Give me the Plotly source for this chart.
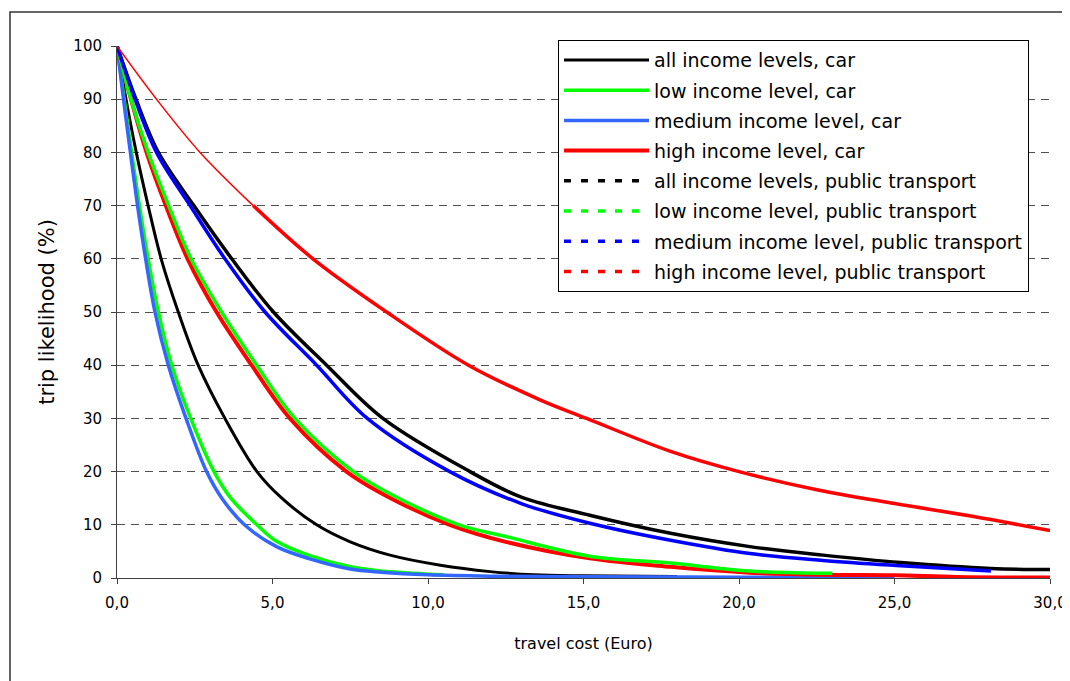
import plotly.graph_objects as go

# ---- data ----
x_ticks = [0, 5, 10, 15, 20, 25, 30]
x_tick_labels = ["0,0", "5,0", "10,0", "15,0", "20,0", "25,0", "30,0"]
y_ticks = [0, 10, 20, 30, 40, 50, 60, 70, 80, 90, 100]
y_tick_labels = ["0", "10", "20", "30", "40", "50", "60", "70", "80", "90", "100"]

names = [
    "all income levels, car",
    "low income level, car",
    "medium income level, car",
    "high income level, car",
    "all income levels, public transport",
    "low income level, public transport",
    "medium income level, public transport",
    "high income level, public transport",
]

all_car_x = [0, 0.29, 0.62, 1.0, 1.42, 1.97, 2.61, 3.47, 4.5, 5.3, 6.42, 7.5, 8.78, 10.4, 12.0, 13.4, 15.0, 18.0]
all_car_y = [100, 90, 80, 70, 60, 50, 40, 30, 20, 15, 10, 6.8, 4.3, 2.4, 1.2, 0.6, 0.4, 0.3]

low_car_x = [0, 0.23, 0.47, 0.72, 1.0, 1.33, 1.76, 2.37, 3.12, 3.66, 4.5, 5.13, 6.2, 7.5, 8.5, 9.5, 10.5]
low_car_y = [100, 90, 80, 70, 60, 50, 40, 30, 20, 15, 10, 6.9, 4.2, 2.1, 1.3, 0.9, 0.6]

med_car_x = [0, 0.21, 0.43, 0.66, 0.92, 1.22, 1.65, 2.22, 2.88, 3.37, 4.1, 5.13, 6.2, 7.5, 8.5, 10.0, 12.0, 15.0, 20.0, 25.0]
med_car_y = [100, 90, 80, 70, 60, 50, 40, 30, 20, 15, 10, 5.9, 3.6, 1.7, 1.1, 0.6, 0.35, 0.25, 0.15, 0.1]

high_car_x = [0, 0.45, 0.95, 1.57, 2.27, 3.2, 4.33, 5.56, 7.38, 8.8, 10.7, 12.5, 15.2, 17.8, 20.35, 22.7, 25.0, 27.0, 30.0]
high_car_y = [100, 90, 80, 70, 60, 50, 40, 30, 20, 15, 10, 6.8, 3.7, 2.1, 1.0, 0.6, 0.5, 0.2, 0.1]

all_pt_x = [0, 0.61, 1.33, 2.47, 3.69, 5.03, 6.74, 8.55, 11.35, 13.0, 15.2, 17.8, 20.35, 22.7, 25.2, 28.1, 30.0]
all_pt_y = [100, 90, 80, 70, 60, 50, 40, 30, 20, 15.2, 11.8, 8.4, 5.9, 4.3, 2.9, 1.8, 1.6]

low_pt_x = [0, 0.45, 1.0, 1.66, 2.38, 3.36, 4.49, 5.72, 7.6, 9.05, 11.0, 12.5, 15.2, 17.8, 20.35, 22.7, 23.0]
low_pt_y = [100, 90, 80, 70, 60, 50, 40, 30, 20, 15, 10, 7.8, 4.1, 2.8, 1.3, 0.9, 0.9]

med_pt_x = [0, 0.58, 1.27, 2.35, 3.47, 4.76, 6.42, 8.05, 10.7, 13.0, 15.2, 17.8, 20.35, 22.7, 25.2, 28.1]
med_pt_y = [100, 90, 80, 70, 60, 50, 40, 30, 20, 14.0, 10.3, 7.1, 4.6, 3.3, 2.3, 1.3]

high_pt_x = [0, 1.27, 2.67, 4.38, 6.3, 8.67, 11.3, 13.6, 15.1, 17.8, 20.0, 22.5, 25.0, 27.5, 30.0]
high_pt_y = [100, 90, 80, 70, 60, 50, 40, 33.5, 30, 23.8, 20, 16.6, 14.0, 11.6, 8.9]

FONT = "DejaVu Sans"
BLACK, GREEN, LBLUE, RED, BLUE = "#000000", "#00FF00", "#3366FF", "#FF0000", "#0000FF"
SMOOTH = 1.0

fig = go.Figure()

# car series (solid, in legend)
car = [
    (all_car_x, all_car_y, BLACK, 3),
    (low_car_x, low_car_y, GREEN, 3.5),
    (med_car_x, med_car_y, LBLUE, 3.5),
    (high_car_x, high_car_y, RED, 4),
]
for i, (xs, ys, c, w) in enumerate(car):
    fig.add_trace(go.Scatter(x=xs, y=ys, mode="lines", name=names[i], legendgroup=f"g{i}",
                             line=dict(color=c, width=w, shape="spline", smoothing=SMOOTH)))

# public transport legend entries (dashed samples)
pt_colors = [BLACK, GREEN, BLUE, RED]
for j, c in enumerate(pt_colors):
    fig.add_trace(go.Scatter(x=[None], y=[None], mode="lines", name=names[4 + j],
                             legendgroup=f"g{4 + j}",
                             line=dict(color=c, width=3.5, dash="7px,10px")))

# public transport series (dense steps in the original, appearing solid)
pt = [
    (all_pt_x, all_pt_y, BLACK, 3.5),
    (low_pt_x, low_pt_y, GREEN, 3.5),
    (med_pt_x, med_pt_y, BLUE, 3.5),
]
for j, (xs, ys, c, w) in enumerate(pt):
    fig.add_trace(go.Scatter(x=xs, y=ys, mode="lines", showlegend=False, legendgroup=f"g{4 + j}",
                             line=dict(color=c, width=w, shape="spline", smoothing=SMOOTH)))

split = 4
fig.add_trace(go.Scatter(x=high_pt_x[:split], y=high_pt_y[:split], mode="lines", showlegend=False,
                         legendgroup="g7", line=dict(color=RED, width=1.5, shape="spline", smoothing=SMOOTH)))
fig.add_trace(go.Scatter(x=high_pt_x[split - 1:], y=high_pt_y[split - 1:], mode="lines", showlegend=False,
                         legendgroup="g7", line=dict(color=RED, width=3.5, shape="spline", smoothing=SMOOTH)))

fig.update_layout(
    width=1070, height=681,
    margin=dict(l=109, r=28, t=38, b=111, autoexpand=False),
    paper_bgcolor="white", plot_bgcolor="white",
    font=dict(family=FONT, size=15, color="black"),
    legend=dict(x=0.4727, y=1.011, xanchor="left", yanchor="top",
                bgcolor="white", bordercolor="black", borderwidth=1,
                font=dict(family=FONT, size=19, color="black"),
                tracegroupgap=2.5, itemwidth=85),
    xaxis=dict(range=[0, 30], tickvals=x_ticks, ticktext=x_tick_labels, automargin=False,
               showgrid=False, zeroline=False, showline=True, linecolor="#404040", linewidth=1,
               ticks="outside", ticklen=5, tickcolor="#404040", ticklabelstandoff=6,
               tickfont=dict(size=15),
               title=dict(text="travel cost (Euro)", font=dict(size=16), standoff=26)),
    yaxis=dict(range=[0, 100], tickvals=y_ticks, ticktext=y_tick_labels, automargin=False,
               showgrid=True, gridcolor="#505050", gridwidth=1, griddash="8px,6px",
               zeroline=False, showline=True, linecolor="#404040", linewidth=1,
               ticks="outside", ticklen=5, tickcolor="#404040", ticklabelstandoff=6,
               tickfont=dict(size=15),
               title=dict(text="trip likelihood (%)", font=dict(size=21), standoff=13)),
    shapes=[dict(type="rect", xref="paper", yref="paper",
                 x0=-0.1147, x1=1.05, y0=-0.215, y1=1.0639,
                 line=dict(color="#333333", width=1.5), fillcolor="rgba(0,0,0,0)", layer="below")],
)

fig.write_html("out.html")
